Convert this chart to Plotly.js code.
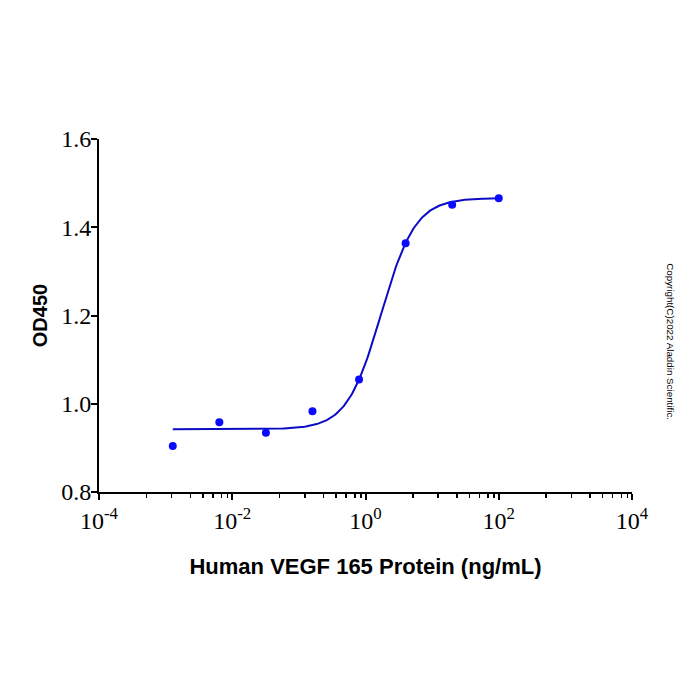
<!DOCTYPE html>
<html>
<head>
<meta charset="utf-8">
<script src="https://cdn.plot.ly/plotly-3.0.1.min.js"></script>
<style>
  html, body { margin: 0; padding: 0; background: #fff; }
  #chart { width: 700px; height: 700px; }
</style>
</head>
<body>
<div id="chart"></div>
<script>
// Measured OD450 for a 5-fold dilution series of Human VEGF 165 (ng/mL)
const dose = [0.00128, 0.0064, 0.032, 0.16, 0.8, 4, 20, 100];
const od450 = [0.904, 0.958, 0.934, 0.983, 1.055, 1.364, 1.451, 1.466];

// Four-parameter logistic fit
const fitBottom = 0.942;
const fitTop = 1.466;
const fitEC50 = 1.72;
const fitHill = 1.69;

// Axis ticks
const xTickVals = [1e-4, 1e-2, 1e0, 1e2, 1e4];
const xTickText = ['10<sup>-4</sup>', '10<sup>-2</sup>', '10<sup>0</sup>', '10<sup>2</sup>', '10<sup>4</sup>'];
const minorOffsets = [0.71, 1.09, 1.37, 1.56, 1.71, 1.84, 1.93];
const yTickVals = [0.8, 1.0, 1.2, 1.4, 1.6];

function logistic(x) {
  return fitBottom + (fitTop - fitBottom) / (1 + Math.pow(fitEC50 / x, fitHill));
}

// Smooth fitted curve spanning the measured dose range
const lo = Math.log10(dose[0]);
const hi = Math.log10(dose[dose.length - 1]);
const curveX = [];
const curveY = [];
const nSamples = 240;
for (let i = 0; i <= nSamples; i++) {
  const x = Math.pow(10, lo + (hi - lo) * i / nSamples);
  curveX.push(x);
  curveY.push(logistic(x));
}

// Minor ticks inside each two-decade interval
const minorVals = [];
for (const base of [-4, -2, 0, 2]) {
  for (const o of minorOffsets) minorVals.push(Math.pow(10, base + o));
}

const traces = [
  {
    x: curveX, y: curveY, type: 'scatter', mode: 'lines',
    line: { color: '#0c0cc4', width: 2 },
    hoverinfo: 'skip', showlegend: false
  },
  {
    x: dose, y: od450, type: 'scatter', mode: 'markers',
    marker: { color: '#0a0aff', size: 8 },
    showlegend: false
  }
];

const tickFont = { family: '"Liberation Serif", "Times New Roman", serif', size: 24, color: '#000' };

const layout = {
  width: 700, height: 700,
  margin: { l: 99, r: 68, t: 139, b: 208 },
  paper_bgcolor: '#fff', plot_bgcolor: '#fff',
  showlegend: false,
  xaxis: {
    type: 'log', range: [-4, 4],
    tickmode: 'array', tickvals: xTickVals, ticktext: xTickText,
    ticks: 'outside', ticklen: 6, tickwidth: 2, tickcolor: '#000',
    minor: { tickmode: 'array', tickvals: minorVals, ticks: 'outside', ticklen: 4, tickwidth: 1.5, tickcolor: '#000', showgrid: false },
    showline: true, linecolor: '#000', linewidth: 2,
    showgrid: false, zeroline: false,
    tickfont: tickFont,
    title: {
      text: '<b>Human VEGF 165 Protein (ng/mL)</b>',
      font: { family: '"Liberation Sans", Arial, sans-serif', size: 22, color: '#000' },
      standoff: 26
    }
  },
  yaxis: {
    range: [0.8, 1.6],
    tickmode: 'array', tickvals: yTickVals, tickformat: '.1f',
    ticks: 'outside', ticklen: 6, tickwidth: 2, tickcolor: '#000',
    ticklabelstandoff: -5,
    showline: true, linecolor: '#000', linewidth: 2,
    showgrid: false, zeroline: false,
    tickfont: tickFont,
    title: {
      text: '<b>OD450</b>',
      font: { family: '"Liberation Sans", Arial, sans-serif', size: 20, color: '#000' },
      standoff: 8
    }
  },
  annotations: [
    {
      text: 'Copyright(C)2022 Aladdin Scientific.',
      xref: 'paper', yref: 'paper', x: 1.085, y: 0.425,
      showarrow: false, textangle: 90,
      font: { family: '"Liberation Sans", Arial, sans-serif', size: 9.8, color: '#000' }
    }
  ]
};

Plotly.newPlot('chart', traces, layout, { displayModeBar: false, staticPlot: true });
</script>
</body>
</html>
